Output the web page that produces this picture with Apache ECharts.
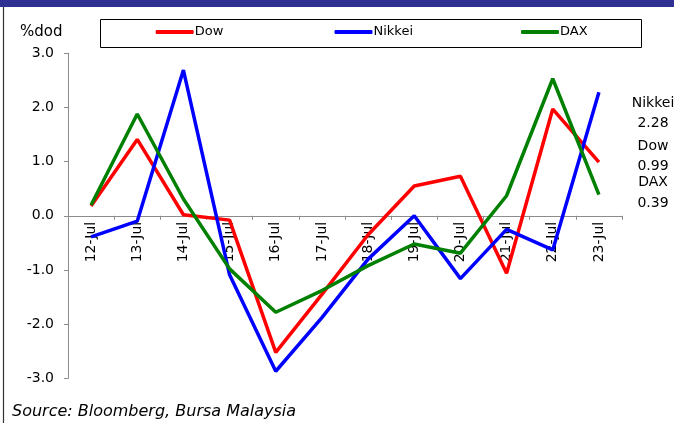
<!DOCTYPE html>
<html>
<head>
<meta charset="utf-8">
<script src="https://cdn.jsdelivr.net/npm/echarts@6/dist/echarts.min.js"></script>
<style>
html,body{margin:0;padding:0;background:#fff;}
#chart{width:674px;height:423px;}
</style>
</head>
<body>
<div id="chart"></div>
<script>
var categories = ['12-Jul','13-Jul','14-Jul','15-Jul','16-Jul','17-Jul','18-Jul','19-Jul','20-Jul','21-Jul','22-Jul','23-Jul'];
var dow    = [0.18, 1.41, 0.02, -0.08, -2.52, -1.45, -0.35, 0.55, 0.73, -1.06, 1.97, 0.99];
var nikkei = [-0.39, -0.10, 2.69, -1.09, -2.87, -1.88, -0.80, 0.00, -1.16, -0.25, -0.63, 2.28];
var dax    = [0.20, 1.88, 0.31, -0.98, -1.78, -1.38, -0.92, -0.52, -0.69, 0.37, 2.53, 0.39];
var yTicks = [-3, -2, -1, 0, 1, 2, 3];
var endNotes = ['Nikkei', '2.28', 'Dow', '0.99', 'DAX', '0.39'];

var FONT = 'DejaVu Sans';
var chart = echarts.init(document.getElementById('chart'), null, {renderer:'canvas'});

function legendAt(name, left) {
  return {
    data: [name], left: left, top: 25.5, orient: 'horizontal', padding: 0,
    icon: 'roundRect', itemWidth: 38, itemHeight: 4, itemGap: 0,
    textStyle: {fontFamily: FONT, fontSize: 13, color: '#000', padding: [0,0,0,-4]},
    selectedMode: false
  };
}

var gridTop = 53.3, gridBottom = 44.7, H = 423;
var plotH = H - gridTop - gridBottom;
var zeroOffset = -plotH * (0 - yTicks[0]) / (yTicks[yTicks.length-1] - yTicks[0]);

var noteY = [103, 123, 146, 166, 182, 203];
var graphics = [
  {type:'rect', shape:{x:0, y:0, width:674, height:7}, style:{fill:'#2E3192'}, silent:true},
  {type:'line', shape:{x1:3.5, y1:7, x2:3.5, y2:423}, style:{stroke:'#333', lineWidth:1.2}, silent:true},
  {type:'rect', shape:{x:100.5, y:19.5, width:541, height:28}, style:{fill:'none', stroke:'#000', lineWidth:1}, silent:true, z:-1},
  {type:'text', x:20, y:32, style:{text:'%dod', font:'15px "DejaVu Sans"', fill:'#000', textVerticalAlign:'middle'}},
  {type:'text', x:12, y:412, style:{text:'Source: Bloomberg, Bursa Malaysia', font:'italic 16px "DejaVu Sans"', fill:'#000', textVerticalAlign:'middle'}}
];
endNotes.forEach(function(t, i){
  graphics.push({type:'text', x:653, y:noteY[i], style:{text:t, font:'14px "DejaVu Sans"', fill:'#000', textAlign:'center', textVerticalAlign:'middle'}});
});

var option = {
  animation: false,
  backgroundColor: '#fff',
  grid: {left: 68, right: 52, top: gridTop, bottom: gridBottom, containLabel: false},
  legend: [legendAt('Dow', 155.7), legendAt('Nikkei', 334.5), legendAt('DAX', 521)],
  xAxis: {
    type: 'category', data: categories, boundaryGap: true,
    position: 'bottom', offset: zeroOffset, z: 0,
    axisLine: {onZero: false, lineStyle: {color: '#8c8c8c', width: 1}},
    axisTick: {show: true, length: 4, lineStyle: {color: '#8c8c8c'}},
    axisLabel: {rotate: 90, margin: 6, fontFamily: FONT, fontSize: 14, color: '#000', interval: 0},
    splitLine: {show: false}
  },
  yAxis: {
    type: 'value', min: yTicks[0], max: yTicks[yTicks.length-1], interval: 1,
    axisLine: {show: true, lineStyle: {color: '#8c8c8c', width: 1}},
    axisTick: {show: true, length: 4, lineStyle: {color: '#8c8c8c'}},
    axisLabel: {margin: 14, fontFamily: FONT, fontSize: 14, color: '#000', formatter: function(v){return v.toFixed(1);}},
    splitLine: {show: false}
  },
  series: [
    {name:'Dow', type:'line', data:dow, symbol:'none', z: 3, color:'#FF0000', lineStyle:{width:3.5, color:'#FF0000'}},
    {name:'Nikkei', type:'line', data:nikkei, symbol:'none', z: 3, color:'#0000FF', lineStyle:{width:3.5, color:'#0000FF'}},
    {name:'DAX', type:'line', data:dax, symbol:'none', z: 3, color:'#008000', lineStyle:{width:3.5, color:'#008000'}}
  ],
  graphic: graphics
};
chart.setOption(option);
</script>
</body>
</html>
